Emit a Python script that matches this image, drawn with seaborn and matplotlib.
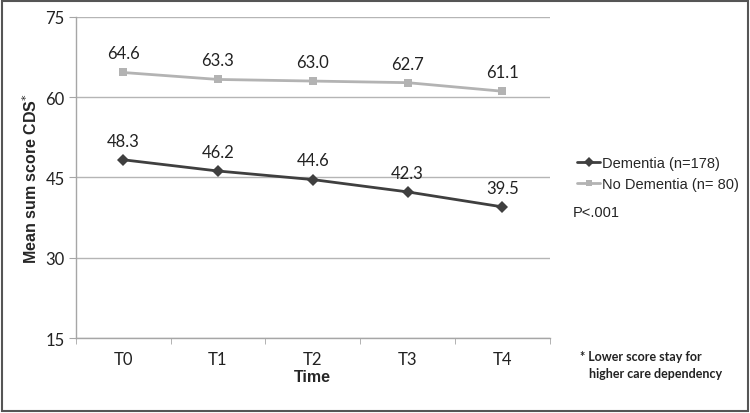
import pandas as pd
import seaborn as sns
import matplotlib.pyplot as plt
from matplotlib.patches import Rectangle
from matplotlib.lines import Line2D

# values
time_points = ['T0', 'T1', 'T2', 'T3', 'T4']
dementia = [48.3, 46.2, 44.6, 42.3, 39.5]
no_dementia = [64.6, 63.3, 63.0, 62.7, 61.1]
series_names = ['Dementia (n=178)', 'No Dementia (n= 80)']
y_ticks = [15, 30, 45, 60, 75]

df = pd.DataFrame({
    'Time': time_points * 2,
    'score': dementia + no_dementia,
    'group': [series_names[0]] * 5 + [series_names[1]] * 5,
})
df['pos'] = df['Time'].map({t: i for i, t in enumerate(time_points)})

sns.set_style('white')
plt.rcParams['font.family'] = ['Lato', 'DejaVu Sans']

fig = plt.figure(figsize=(7.5, 4.14), dpi=100)
ax = fig.add_axes([0.101, 0.181, 0.632, 0.776])

colors = {series_names[0]: '#3f3f3f', series_names[1]: '#b3b3b3'}
sns.lineplot(data=df, x='pos', y='score', hue='group', style='group',
             markers={series_names[0]: 'D', series_names[1]: 's'}, dashes=False,
             palette=colors, linewidth=2, markersize=6, markeredgewidth=0,
             legend=False, ax=ax)

# data labels
for name, vals in zip(series_names, [dementia, no_dementia]):
    for i, v in enumerate(vals):
        ax.annotate(f'{v:.1f}', (i, v), xytext=(0, 8), textcoords='offset points',
                    ha='center', va='bottom', fontsize=12, color='#222222')

ax.set_xlim(-0.5, 4.5)
ax.set_ylim(15, 75)
ax.set_yticks(y_ticks)
ax.set_xticks(range(len(time_points)))
ax.set_xticklabels(time_points)
ax.set_xticks([i - 0.5 for i in range(len(time_points) + 1)], minor=True)
ax.tick_params(axis='x', which='major', length=0, labelsize=12, pad=9, colors='#222222')
ax.tick_params(axis='x', which='minor', length=4, color='#a6a6a6', direction='out', bottom=True)
ax.tick_params(axis='y', length=5, color='#a6a6a6', labelsize=12, pad=3, left=True)
for t in ax.get_yticklabels():
    t.set_color('#222222')
ax.yaxis.grid(True, color='#b5b5b5', linewidth=1)
for s in ['top', 'right']:
    ax.spines[s].set_visible(False)
for s in ['left', 'bottom']:
    ax.spines[s].set_color('#a6a6a6')
    ax.spines[s].set_linewidth(1)

ax.set_xlabel('Time', fontsize=11.5, fontweight='bold', family='Liberation Sans', labelpad=2)
ax.set_ylabel('Mean sum score CDS$^{*}$', fontsize=11.5, fontweight='bold',
              family='Liberation Sans', labelpad=4)

# legend
handles = [Line2D([], [], color=colors[n], marker=m, markersize=5, linewidth=2, markeredgewidth=0)
           for n, m in zip(series_names, ['D', 's'])]
fig.legend(handles, series_names, loc='upper left', bbox_to_anchor=(0.752, 0.652),
           frameon=False, handlelength=1.6, handletextpad=0.1, labelspacing=0.45,
           prop={'family': 'Liberation Sans', 'size': 10.5})
fig.text(0.764, 0.485, 'P<.001', fontsize=10.5, family='Liberation Sans', color='#222222', va='center')
fig.text(0.773, 0.117, '* Lower score stay for\n   higher care dependency', fontsize=9,
         fontweight='bold', color='#222222', va='center', linespacing=1.45)

# chart border
fig.patches.append(Rectangle((0.002, 0.006), 0.995, 0.99, transform=fig.transFigure,
                             fill=False, edgecolor='#555555', linewidth=1.5))

fig.savefig('out.png', dpi=100)
